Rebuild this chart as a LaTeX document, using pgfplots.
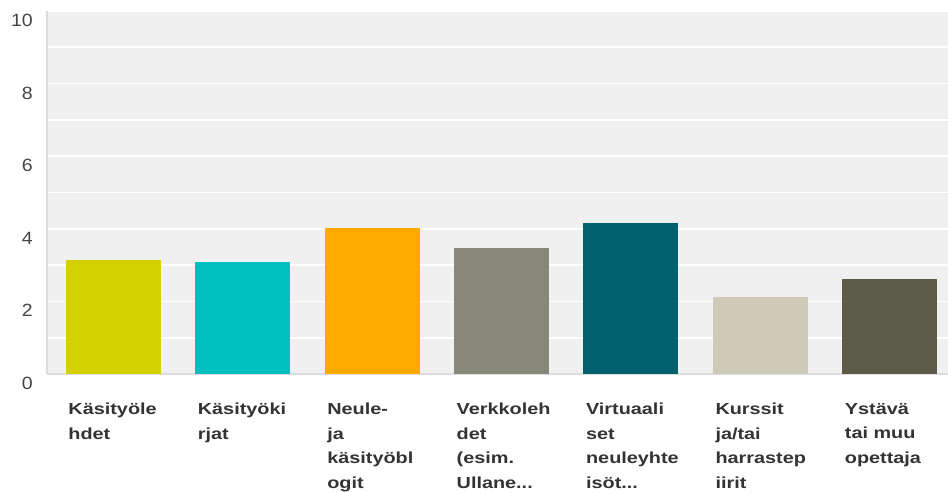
\documentclass[border=0pt]{standalone}
\usepackage{pgfplots}
\pgfplotsset{compat=1.18}
\usepackage{fontspec}
\setmainfont{Liberation Sans}
\newfontfamily\catfont[FakeStretch=1.24]{Liberation Sans}
\newfontfamily\tickfont[FakeStretch=1.1]{Liberation Sans}
\newcommand\ddd{...}
\definecolor{bgc}{HTML}{F0F0F0}
\definecolor{axc}{HTML}{DDDDDD}
\definecolor{tickc}{HTML}{444444}
\definecolor{labc}{HTML}{333333}
\definecolor{c1}{HTML}{D4D100}
\definecolor{c2}{HTML}{00BFBF}
\definecolor{c3}{HTML}{FFAA00}
\definecolor{c4}{HTML}{87887A}
\definecolor{c5}{HTML}{00606E}
\definecolor{c6}{HTML}{CDCBB8}
\definecolor{c7}{HTML}{5C5A48}
\begin{document}
\begin{tikzpicture}
\begin{axis}[
  name=ax,
  scale only axis,
  width=675.75pt, height=272.25pt,
  xmin=-0.5116, xmax=6.451,
  ymin=0, ymax=10,
  ytick={0,2,4,6,8,10},
  minor ytick={1,3,5,7,9},
  ymajorgrids, yminorgrids,
  major grid style={white, line width=1.2pt},
  minor grid style={white, line width=1.2pt},
  axis background/.style={fill=bgc},
  axis x line*=bottom, axis y line*=left,
  axis line style={draw=axc, line width=2pt, -},
  tick style={draw=none},
  /pgf/number format/assume math mode=true,
  yticklabel style={font=\tickfont\fontsize{13.3}{16}\selectfont, text=tickc, anchor=east, inner sep=0pt, xshift=-10.5pt, yshift=-7pt},
  xtick={0,1,2,3,4,5,6},
  xticklabels={{Käsityöle\\hdet},{Käsityöki\\rjat},{Neule-\\ja\\käsityöbl\\ogit},{Verkkoleh\\det\\(esim.\\Ullane\ddd},{Virtuaali\\set\\neuleyhte\\isöt\ddd},{Kurssit\\ja/tai\\harrastep\\iirit},{Ystävä\\tai muu\\opettaja}},
  xticklabel style={font=\catfont\bfseries\fontsize{12}{18.4}\selectfont, text=labc, anchor=north west, align=left, inner sep=0pt, xshift=-33.75pt, yshift=-21.5pt},
]
\addplot[ybar, bar width=71.25pt, bar shift=0pt, fill=c1, draw=none] coordinates {(0,3.13)};
\addplot[ybar, bar width=71.25pt, bar shift=0pt, fill=c2, draw=none] coordinates {(1,3.09)};
\addplot[ybar, bar width=71.25pt, bar shift=0pt, fill=c3, draw=none] coordinates {(2,4.02)};
\addplot[ybar, bar width=71.25pt, bar shift=0pt, fill=c4, draw=none] coordinates {(3,3.48)};
\addplot[ybar, bar width=71.25pt, bar shift=0pt, fill=c5, draw=none] coordinates {(4,4.17)};
\addplot[ybar, bar width=71.25pt, bar shift=0pt, fill=c6, draw=none] coordinates {(5,2.12)};
\addplot[ybar, bar width=71.25pt, bar shift=0pt, fill=c7, draw=none] coordinates {(6,2.61)};
\end{axis}
\pgfresetboundingbox
\path ([xshift=-35.25pt, yshift=-88.5pt]ax.south west) rectangle ([yshift=8.25pt]ax.north east);
\end{tikzpicture}
\end{document}
